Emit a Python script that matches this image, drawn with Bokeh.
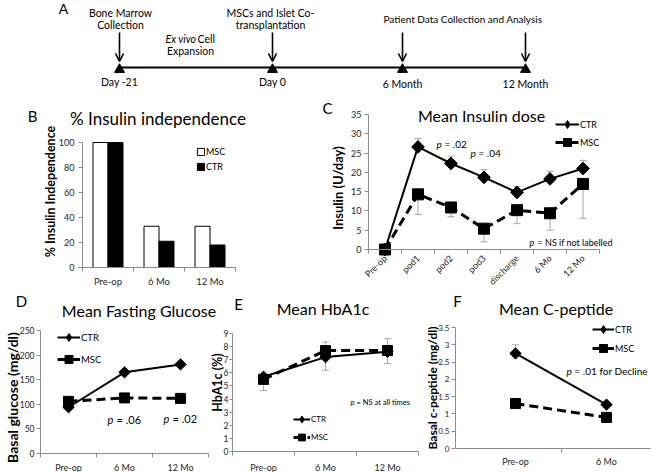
import math
from bokeh.plotting import figure
from bokeh.layouts import column, row
from bokeh.models import (Range1d, FixedTicker, Label, Legend, LegendItem, GridBox,
                          Whisker, TeeHead, ColumnDataSource, Arrow, OpenHead)
from bokeh.core.properties import value
from bokeh.embed import file_html
from bokeh.resources import INLINE

FONT = "Lato"
AXIS_GREY = "#8c8c8c"
ERR_GREY = "#a6a6a6"
TICK_TEXT = "#262626"

# ---------------- data ----------------
# A: study timeline (schematic positions along the time line)
timeline_labels = ["Day -21", "Day 0", "6 Month", "12 Month"]
timeline_pos = [119, 272, 402, 525]
timeline_label_y = [81, 81, 83, 83]

# B: % insulin independence
indep_cats = ["Pre-op", "6 Mo", "12 Mo"]
indep_msc = [100, 33, 33]
indep_ctr = [100, 21, 18]
indep_ticks = [0, 20, 40, 60, 80, 100]

# C: mean insulin dose (U/day)
dose_cats = ["Pre-op", "pod1", "pod2", "pod3", "discharge", "6 Mo", "12 Mo"]
dose_ctr = [0, 26.6, 22.3, 18.7, 14.8, 18.3, 21.0]
dose_ctr_hi = [0, 28.8, 24.2, 20.7, 16.3, 20.3, 23.1]
dose_msc = [0, 14.3, 10.9, 5.4, 10.2, 9.4, 17.0]
dose_msc_lo = [0, 9.1, 8.5, 2.0, 6.7, 5.0, 8.1]
dose_ticks = [0, 5, 10, 15, 20, 25, 30, 35]

# D: mean fasting glucose (mg/dl)
glu_cats = ["Pre-op", "6 Mo", "12 Mo"]
glu_ctr = [94, 165, 181]
glu_ctr_hi = [99, 170, 187]
glu_msc = [106, 113, 112]
glu_msc_lo = [101, 104, 105]
glu_ticks = [0, 50, 100, 150, 200, 250]

# E: mean HbA1c (%)
a1c_cats = ["Pre-op", "6 Mo", "12 Mo"]
a1c_ctr = [5.7, 7.2, 7.6]
a1c_ctr_hi = [5.9, 8.35, 8.6]
a1c_msc = [5.5, 7.7, 7.7]
a1c_msc_lo = [4.65, 6.2, 6.7]
a1c_ticks = [0, 1, 2, 3, 4, 5, 6, 7, 8, 9]

# F: mean C-peptide (mg/dl)
cpep_cats = ["Pre-op", "6 Mo"]
cpep_ctr = [2.75, 1.27]
cpep_ctr_hi = [3.0, 1.33]
cpep_msc = [1.3, 0.9]
cpep_msc_lo = [1.22, 0.83]
cpep_ticks = [0, 0.5, 1, 1.5, 2, 2.5, 3, 3.5]
cpep_tick_labels = ["0", "0.5", "1", "1.5", "2", "2.5", "3", "3.5"]


# ---------------- helpers ----------------
class Panel:
    """A borderless figure covering a page rectangle; x0/y0 = page position of
    data value 0, kx/ky = pixels per data unit (used to set the ranges and to
    place text annotations). Axes are drawn at fixed data locations."""

    def __init__(self, fig_box, x0, kx, y0, ky, axes=True):
        self.fl, self.ft, self.fr, self.fb = fig_box
        self.x0, self.kx, self.y0, self.ky = x0, kx, y0, ky
        kw = {} if axes else dict(x_axis_type=None, y_axis_type=None)
        self.fig = figure(
            width=self.fr - self.fl, height=self.fb - self.ft,
            x_range=Range1d(self.dx(self.fl), self.dx(self.fr)),
            y_range=Range1d(self.dy(self.fb), self.dy(self.ft)),
            min_border_left=0, min_border_right=0, min_border_top=0, min_border_bottom=0,
            output_backend="svg", toolbar_location=None, outline_line_color=None,
            **kw)
        self.fig.grid.visible = False

    def dx(self, px):
        return (px - self.x0) / self.kx

    def dy(self, py):
        return (self.y0 - py) / self.ky

    def text(self, px, py, s, size, align="left", style="normal", color="black",
             x_offset=0, angle=0):
        self.fig.add_layout(Label(
            x=self.dx(px), y=self.dy(py), text=s, text_font=FONT,
            text_font_size=f"{size}px", text_font_style=style, text_align=align,
            text_baseline="middle", text_color=color, x_offset=x_offset, angle=angle))

    def ptext(self, px, py, rest, size):
        self.text(px, py, "p", size, style="italic")
        self.text(px, py, rest, size, x_offset=round(size * 0.85))

    def legend(self, renderers, label, left_px, cy_px, gw, size, standoff=1, gh=20):
        leg = Legend(
            items=[LegendItem(label=value(label), renderers=renderers)],
            location=(left_px - self.fl, self.fb - (cy_px + gh / 2)),
            padding=0, margin=0, spacing=0, glyph_width=gw, glyph_height=gh,
            label_height=gh, label_width=10, label_standoff=standoff,
            border_line_color=None, background_fill_alpha=0,
            label_text_font=FONT, label_text_font_size=f"{size}px",
            label_text_color="black")
        self.fig.add_layout(leg)


def style_axes(P, cats, yticks, ybounds, yaxis_x=0.5, ytick_standoff=3, ytick_out=4,
               xtick_standoff=4, xtick_size=9, ytick_size=8.5, xbounds=None,
               xminor=None, rot=None, ytick_labels=None):
    p = P.fig
    n = len(cats)
    xi = list(range(1, n + 1))
    xa = p.xaxis[0]
    ya = p.yaxis[0]
    xa.fixed_location = 0
    ya.fixed_location = yaxis_x
    xa.ticker = FixedTicker(ticks=xi, minor_ticks=xminor if xminor is not None
                            else [k + 0.5 for k in range(0, n + 1)])
    xa.major_label_overrides = dict(zip(xi, cats))
    xa.bounds = xbounds if xbounds is not None else (0.5, n + 0.5)
    xa.major_tick_out = 0
    xa.major_tick_in = 0
    xa.minor_tick_out = 4
    xa.minor_tick_in = 0
    xa.major_label_standoff = xtick_standoff
    xa.major_label_text_font_size = f"{xtick_size}px"
    if rot:
        xa.major_label_orientation = rot
    ya.ticker = FixedTicker(ticks=yticks)
    if ytick_labels:
        ya.major_label_overrides = dict(zip(yticks, ytick_labels))
    ya.bounds = ybounds
    ya.major_tick_out = ytick_out
    ya.major_tick_in = 0
    ya.minor_tick_out = 0
    ya.minor_tick_in = 0
    ya.major_label_standoff = ytick_standoff
    ya.major_label_text_font_size = f"{ytick_size}px"
    for ax in (xa, ya):
        ax.axis_line_color = AXIS_GREY
        ax.major_tick_line_color = AXIS_GREY
        ax.minor_tick_line_color = AXIS_GREY
        ax.major_label_text_font = FONT
        ax.major_label_text_color = TICK_TEXT


def add_err(P, xs, ys, ends, up=True):
    src = ColumnDataSource(dict(x=xs, a=ys, b=ends))
    head = TeeHead(size=7, line_color=ERR_GREY, line_width=1)
    if up:
        w = Whisker(source=src, base="x", lower="a", upper="b", upper_head=head,
                    lower_head=None, line_color=ERR_GREY, line_width=1)
    else:
        w = Whisker(source=src, base="x", lower="b", upper="a", lower_head=head,
                    upper_head=None, line_color=ERR_GREY, line_width=1)
    P.fig.add_layout(w)


def two_series(P, ctr, ctr_hi, msc, msc_lo, xs, ctr_size, msc_size, key_d=8):
    add_err(P, xs, ctr, ctr_hi, up=True)
    add_err(P, xs, msc, msc_lo, up=False)
    lc = P.fig.line(xs, ctr, line_color="black", line_width=2)
    # small diamonds (legend key) sit underneath the larger CTR markers
    kc = P.fig.scatter(xs, ctr, marker="diamond", size=key_d, color="black")
    P.fig.scatter(xs, ctr, marker="square", angle=math.pi / 4, size=ctr_size, color="black")
    lm = P.fig.line(xs, msc, line_color="black", line_width=3, line_dash="9 5")
    mm = P.fig.scatter(xs, msc, marker="square", size=msc_size, color="black")
    return [lc, kc], [lm, mm]


# ---------------- A: timeline ----------------
PA = Panel((0, 0, 652, 96), 0, 1, 0, -1, axes=False)
PA.fig.line(x=[timeline_pos[0], timeline_pos[-1]], y=[67, 67], line_color="black", line_width=2)
PA.fig.scatter(x=timeline_pos, y=[69] * len(timeline_pos), marker="triangle", size=10, color="black")
for xp in timeline_pos:
    PA.fig.add_layout(Arrow(x_start=xp, y_start=32, x_end=xp, y_end=61,
                            line_color="black", line_width=1.6,
                            end=OpenHead(size=8, line_color="black", line_width=1.6)))
for xp, lab, yp in zip(timeline_pos, timeline_labels, timeline_label_y):
    PA.text(xp, yp, lab, 10.5, align="center")
PA.text(63, 8, "A", 14, align="center")
PA.text(120, 12, "Bone Marrow", 10.5, align="center")
PA.text(120, 24, "Collection", 10.5, align="center")
PA.text(270, 12, "MSCs and Islet Co-", 10.5, align="center")
PA.text(270, 24, "transplantation", 10.5, align="center")
PA.text(165, 38, "Ex vivo", 10.5, style="italic")
PA.text(197, 38, "Cell", 10.5)
PA.text(190, 50, "Expansion", 10.5, align="center")
PA.text(383, 18, "Patient Data Collection and  Analysis", 10)

# ---------------- B: % insulin independence ----------------
PB = Panel((0, 96, 322, 292), 56.5, 51, 267, 1.25)
xb = list(range(1, len(indep_cats) + 1))
bw = 0.294
rb_msc = PB.fig.vbar(x=[k - bw / 2 for k in xb], top=indep_msc, width=bw,
                     fill_color="white", line_color="black", line_width=1)
rb_ctr = PB.fig.vbar(x=[k + bw / 2 for k in xb], top=indep_ctr, width=bw,
                     fill_color="black", line_color="black", line_width=1)
style_axes(PB, indep_cats, indep_ticks, (0, 100), ytick_standoff=4,
           xtick_standoff=4, xtick_size=9.5, ytick_size=9)
PB.legend([rb_msc], "MSC", 196, 152, 9, 9, standoff=1, gh=9)
PB.legend([rb_ctr], "CTR", 196, 167, 9, 9, standoff=1, gh=9)

# ---------------- C: mean insulin dose ----------------
PC = Panel((322, 96, 652, 292), 351.5, 33, 249, 135 / 35)
xc = list(range(1, len(dose_cats) + 1))
rc_ctr, rc_msc = two_series(PC, dose_ctr, dose_ctr_hi, dose_msc, dose_msc_lo, xc, 9, 11)
style_axes(PC, dose_cats, dose_ticks, (0, 35), ytick_standoff=3, xtick_standoff=3,
           xtick_size=9, ytick_size=9, rot=math.pi / 4)
PC.legend(rc_ctr, "CTR", 555, 124, 24, 9)
PC.legend(rc_msc, "MSC", 555, 142, 24, 9)
PC.ptext(436, 143, "= .02", 10)
PC.ptext(470, 152, "= .04", 10)
PC.ptext(529, 242, "= NS if not labelled", 9)

# ---------------- D: mean fasting glucose ----------------
PD = Panel((0, 292, 212, 472), 12, 56, 453, 123 / 250)
xd = list(range(1, len(glu_cats) + 1))
rd_ctr, rd_msc = two_series(PD, glu_ctr, glu_ctr_hi, glu_msc, glu_msc_lo, xd, 8, 10)
style_axes(PD, glu_cats, glu_ticks, (0, 250), ytick_standoff=2, xtick_standoff=4,
           xtick_size=9, ytick_size=8.5)
PD.legend(rd_ctr, "CTR", 57, 337, 23, 9.5)
PD.legend(rd_msc, "MSC", 57, 359, 23, 9.5)
PD.ptext(107, 419, "= .06", 11)
PD.ptext(163, 418, "= .02", 11)

# ---------------- E: mean HbA1c ----------------
PE = Panel((212, 292, 424, 472), 201, 62, 451, 118 / 9)
xe = list(range(1, len(a1c_cats) + 1))
re_ctr, re_msc = two_series(PE, a1c_ctr, a1c_ctr_hi, a1c_msc, a1c_msc_lo, xe, 8, 10, key_d=7)
style_axes(PE, a1c_cats, a1c_ticks, (0, 9), ytick_standoff=1, ytick_out=3,
           xtick_standoff=6, xtick_size=9, ytick_size=8.5)
PE.legend(re_ctr, "CTR", 293, 419, 17, 8)
PE.legend(re_msc, "MSC", 293, 437, 17, 8)
PE.ptext(350, 402, "= NS at all times", 7.5)

# ---------------- F: mean C-peptide ----------------
PF = Panel((424, 292, 652, 472), 424, 91, 448, 121 / 3.5)
xf = list(range(1, len(cpep_cats) + 1))
rf_ctr, rf_msc = two_series(PF, cpep_ctr, cpep_ctr_hi, cpep_msc, cpep_msc_lo, xf, 8, 10)
style_axes(PF, cpep_cats, cpep_ticks, (0, 3.5), yaxis_x=PF.dx(455), ytick_standoff=2,
           xtick_standoff=3, xtick_size=9, ytick_size=8, xbounds=(PF.dx(455), PF.dx(650)),
           xminor=[1.5, 2.5], ytick_labels=cpep_tick_labels)
PF.legend(rf_ctr, "CTR", 592, 329, 22, 9)
PF.legend(rf_msc, "MSC", 592, 348, 22, 9)
PF.ptext(566, 370, "= .01 for Decline", 10)

# ---------------- overlay: panel letters, titles, axis titles ----------------
OV = Panel((0, 0, 652, 472), 0, 1, 0, -1, axes=False)
OV.fig.background_fill_color = None
OV.fig.border_fill_color = None
panel_letters = [("B", 32, 115), ("C", 327, 107), ("D", 21, 300), ("E", 238, 303), ("F", 457, 300)]
for s, xp, yp in panel_letters:
    OV.text(xp, yp, s, 15, align="center")
panel_titles = [("% Insulin independence", 157.5, 118, 17), ("Mean Insulin dose", 481, 115, 16),
                ("Mean Fasting Glucose", 138.5, 310, 16), ("Mean HbA1c", 322.5, 308, 16),
                ("Mean C-peptide", 555.5, 308, 16)]
for s, xp, yp, fs in panel_titles:
    OV.text(xp, yp, s, fs, align="center")
axis_titles = [("% Insulin Independence", 50, 191, 12.5), ("Insulin (U/day)", 337, 187.5, 13),
               ("Basal glucose (mg/dl)", 12, 397, 14), ("HbA1c (%)", 217, 382, 12.5),
               ("Basal c-peptide (mg/dl)", 432, 387.5, 12)]
for s, xp, yp, fs in axis_titles:
    OV.text(xp, yp, s, fs, align="center", style="bold", angle=math.pi / 2)

main = column(PA.fig, row(PB.fig, PC.fig), row(PD.fig, PE.fig, PF.fig))
page = GridBox(children=[(main, 0, 0), (OV.fig, 0, 0)])

with open("out.html", "w") as fh:
    fh.write(file_html(page, INLINE))
